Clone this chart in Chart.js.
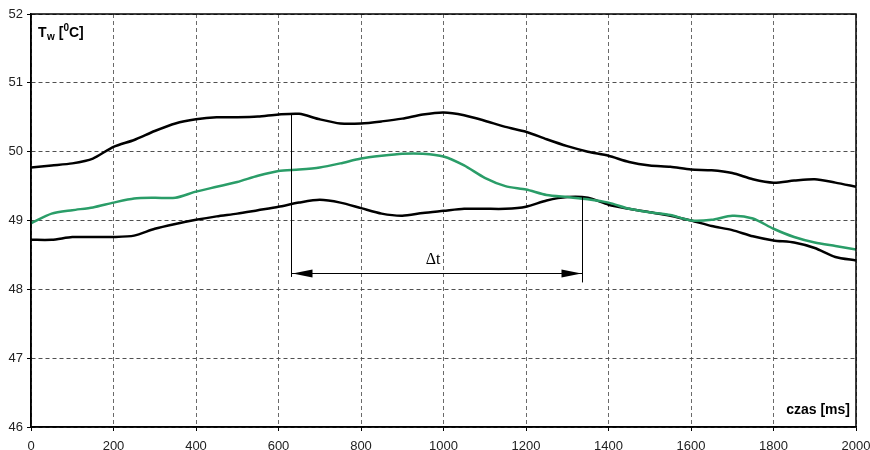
<!DOCTYPE html>
<html>
<head>
<meta charset="utf-8">
<script src="https://cdn.jsdelivr.net/npm/chart.js@4.4.1/dist/chart.umd.min.js"></script>
<style>
  html, body { margin: 0; padding: 0; background: #fff; }
</style>
</head>
<body>
<canvas id="tempChart" width="870" height="450"></canvas>
<script>
  // Time axis samples (ms)
  const timeMs = [0, 50, 100, 150, 200, 250, 300, 350, 400, 450, 500, 550, 600, 650, 700, 750, 800, 850, 900, 950,
    1000, 1050, 1100, 1150, 1200, 1250, 1300, 1350, 1400, 1450, 1500, 1550, 1600, 1650, 1700, 1750, 1800, 1850, 1900, 1950, 2000];

  // Upper black curve
  const upperTemp = [49.77, 49.80, 49.83, 49.90, 50.07, 50.17, 50.30, 50.41, 50.47, 50.50, 50.50, 50.51, 50.54, 50.55, 50.47, 50.41, 50.41, 50.44, 50.48, 50.54,
    50.57, 50.53, 50.45, 50.36, 50.29, 50.18, 50.08, 50.00, 49.94, 49.85, 49.80, 49.78, 49.74, 49.73, 49.69, 49.60, 49.55, 49.58, 49.60, 49.55, 49.49];

  // Green (middle) curve
  const middleTemp = [48.96, 49.10, 49.15, 49.19, 49.26, 49.32, 49.33, 49.33, 49.42, 49.49, 49.56, 49.65, 49.72, 49.74, 49.77, 49.83, 49.90, 49.94, 49.97, 49.97,
    49.93, 49.80, 49.62, 49.50, 49.45, 49.37, 49.34, 49.31, 49.26, 49.17, 49.12, 49.08, 49.00, 49.01, 49.07, 49.03, 48.88, 48.76, 48.68, 48.63, 48.58];

  // Lower black curve
  const lowerTemp = [48.72, 48.72, 48.76, 48.76, 48.76, 48.78, 48.88, 48.95, 49.01, 49.06, 49.10, 49.15, 49.20, 49.26, 49.30, 49.26, 49.18, 49.10, 49.07, 49.11,
    49.14, 49.17, 49.17, 49.17, 49.20, 49.29, 49.34, 49.33, 49.23, 49.17, 49.12, 49.07, 49.00, 48.92, 48.86, 48.77, 48.71, 48.68, 48.60, 48.47, 48.42];

  // Delta t annotation (data units)
  const dtStart = 630, dtEnd = 1335;
  const dtLevel = 48.24;
  const dtStartTop = 50.55, dtStartBottom = 48.18;
  const dtEndTop = 49.35, dtEndBottom = 48.10;
  const dtLabelAt = [975, 48.43];

  const toPoints = (vals) => vals.map((v, i) => ({ x: timeMs[i], y: v }));

  // frame, annotation and axis titles
  const extrasPlugin = {
    id: 'extras',
    afterDatasetsDraw(chart) {
      const { ctx, chartArea: a, scales: { x, y } } = chart;
      ctx.save();

      // Frame round the plot
      ctx.strokeStyle = '#000';
      ctx.lineWidth = 1.5;
      ctx.strokeRect(a.left, a.top, a.right - a.left, a.bottom - a.top);

      // Delta t marker lines (snapped to pixel centres so they stay crisp)
      const crisp = (v) => Math.round(v) + 0.5;
      const x1 = crisp(x.getPixelForValue(dtStart));
      const x2 = crisp(x.getPixelForValue(dtEnd));
      const ay = crisp(y.getPixelForValue(dtLevel));
      ctx.lineWidth = 1;
      ctx.beginPath();
      ctx.moveTo(x1, y.getPixelForValue(dtStartTop));
      ctx.lineTo(x1, y.getPixelForValue(dtStartBottom));
      ctx.moveTo(x2, y.getPixelForValue(dtEndTop));
      ctx.lineTo(x2, y.getPixelForValue(dtEndBottom));
      ctx.moveTo(x1, ay);
      ctx.lineTo(x2, ay);
      ctx.stroke();

      // arrow heads
      ctx.fillStyle = '#000';
      ctx.beginPath();
      ctx.moveTo(x1 + 1, ay);
      ctx.lineTo(x1 + 21, ay - 4);
      ctx.lineTo(x1 + 21, ay + 4);
      ctx.closePath();
      ctx.fill();
      ctx.beginPath();
      ctx.moveTo(x2 - 1, ay);
      ctx.lineTo(x2 - 21, ay - 4);
      ctx.lineTo(x2 - 21, ay + 4);
      ctx.closePath();
      ctx.fill();

      ctx.font = '16px "Liberation Serif", "Times New Roman", serif';
      ctx.textAlign = 'center';
      ctx.textBaseline = 'middle';
      ctx.fillText('\u0394t', x.getPixelForValue(dtLabelAt[0]), y.getPixelForValue(dtLabelAt[1]));

      // y title: T_w [^0 C]
      ctx.textAlign = 'left';
      ctx.textBaseline = 'alphabetic';
      let tx = a.left + 7;
      const ty = a.top + 23;
      ctx.font = 'bold 14px "Liberation Sans", Arial, sans-serif';
      ctx.fillText('T', tx, ty);
      tx += ctx.measureText('T').width + 0.5;
      ctx.font = 'bold 10px "Liberation Sans", Arial, sans-serif';
      ctx.fillText('w', tx, ty + 3);
      tx += ctx.measureText('w').width;
      ctx.font = 'bold 14px "Liberation Sans", Arial, sans-serif';
      ctx.fillText(' [', tx, ty);
      tx += ctx.measureText(' [').width;
      ctx.font = 'bold 10px "Liberation Sans", Arial, sans-serif';
      ctx.fillText('0', tx, ty - 6);
      tx += ctx.measureText('0').width;
      ctx.font = 'bold 14px "Liberation Sans", Arial, sans-serif';
      ctx.fillText('C]', tx, ty);

      // x title
      ctx.textAlign = 'right';
      ctx.textBaseline = 'middle';
      ctx.fillText('czas [ms]', a.right - 6, a.bottom - 17);

      ctx.restore();
    }
  };

  const ctxTemp = document.getElementById('tempChart').getContext('2d');
  const tempChart = new Chart(ctxTemp, {
    type: 'line',
    data: {
      datasets: [
        { label: 'upper', data: toPoints(upperTemp), borderColor: '#000', borderWidth: 2.5 },
        { label: 'middle', data: toPoints(middleTemp), borderColor: '#2a9d68', borderWidth: 2.5 },
        { label: 'lower', data: toPoints(lowerTemp), borderColor: '#000', borderWidth: 2.5 }
      ]
    },
    options: {
      responsive: false,
      animation: false,
      devicePixelRatio: 1,
      elements: {
        point: { radius: 0 },
        line: { tension: 0.25, fill: false }
      },
      layout: { padding: { top: 14, right: 14, left: 0, bottom: 0 } },
      plugins: {
        legend: { display: false },
        tooltip: { enabled: false }
      },
      scales: {
        x: {
          type: 'linear',
          min: 0,
          max: 2000,
          afterFit: (s) => { s.height = 23; s.paddingLeft = 0; s.paddingRight = 0; },
          ticks: {
            stepSize: 200,
            padding: 8,
            color: '#222',
            font: { family: '"Liberation Sans", Arial, sans-serif', size: 13 },
            maxRotation: 0,
            callback: (v) => String(v)
          },
          grid: {
            color: '#6a6a6a',
            tickColor: '#000',
            tickLength: 4,
            tickBorderDash: []
          },
          border: { color: '#000', width: 1.5, dash: [4, 3] }
        },
        y: {
          min: 46,
          max: 52,
          afterFit: (s) => { s.width = 31; s.paddingTop = 0; s.paddingBottom = 0; },
          ticks: {
            stepSize: 1,
            padding: 4,
            color: '#222',
            font: { family: '"Liberation Sans", Arial, sans-serif', size: 13 }
          },
          grid: {
            color: '#505050',
            tickColor: '#000',
            tickLength: 4,
            tickBorderDash: []
          },
          border: { color: '#000', width: 1.5, dash: [4, 3] }
        }
      }
    },
    plugins: [extrasPlugin]
  });
</script>
</body>
</html>
